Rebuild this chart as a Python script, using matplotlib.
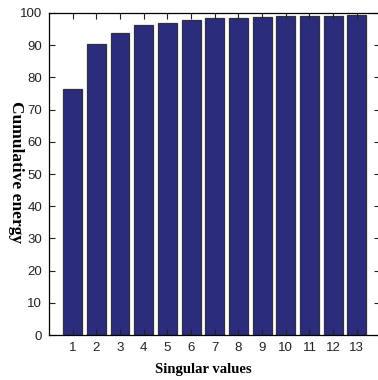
import matplotlib
matplotlib.use("Agg")
import matplotlib.pyplot as plt
from matplotlib import font_manager

# cumulative energy (%) of the first singular values
components = list(range(1, 14))
energy = [76.3, 90.4, 93.8, 96.2, 97.0, 97.8, 98.4, 98.4, 98.9, 99.1, 99.1, 99.1, 99.4]
yticks = [0, 10, 20, 30, 40, 50, 60, 70, 80, 90, 100]

names = {f.name for f in font_manager.fontManager.ttflist}
tick_font = "Liberation Sans Narrow" if "Liberation Sans Narrow" in names else "Liberation Sans"

fig = plt.figure(figsize=(3.78, 3.80), dpi=100)
ax = fig.add_axes([0.1296, 0.1184, 0.877, 0.8474])

ax.bar(components, energy, width=0.8, color="#2b2d7c",
       edgecolor="#303040", linewidth=0.9)

ax.set_xlim(0, 14)
ax.set_ylim(0, 100)
ax.set_xticks(components)
ax.set_yticks(yticks)
ax.tick_params(direction="in", length=4, width=0.8, top=True, right=True,
               labelsize=9.5, pad=5, colors="#222222")
for lab in ax.get_xticklabels() + ax.get_yticklabels():
    lab.set_fontfamily(tick_font)
for s in ax.spines.values():
    s.set_linewidth(0.9)

# axis titles placed in figure coords, like the original export
fig.text(203 / 378, 1 - 370 / 380, "Singular values", fontfamily="Liberation Serif",
         fontweight="bold", fontsize=10.5, ha="center", va="center")
fig.text(16 / 378, 1 - 172 / 380, "Cumulative energy", fontfamily="Liberation Serif",
         fontweight="bold", fontsize=12.5, ha="center", va="center", rotation=-90)

fig.savefig("out.png", dpi=100)
